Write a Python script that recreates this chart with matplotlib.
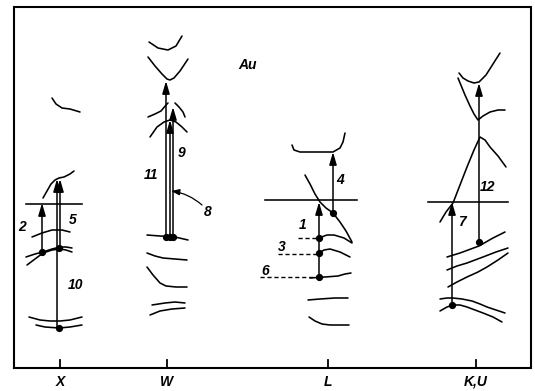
import matplotlib
matplotlib.use("Agg")
import matplotlib.pyplot as plt

# ---- data (drawing units = reference pixels, y grows downward) ----
kpoint_labels = ["X", "W", "L", "K,U"]
kpoint_x = [60, 167, 328, 476]
frame = (14, 7, 531, 368)  # left, top, right, bottom

# Fermi level segments (x0, x1, y)
fermi_segments = [(26, 82, 204), (265, 357, 200), (428, 508, 202)]

# band curves near each point
bands_X = [
    [(52, 98), (56, 104), (62, 108), (70, 109), (80, 112)],
    [(43, 198), (47, 191), (51, 184), (55, 180), (59, 178), (64, 177), (70, 174), (74, 171)],
    [(32, 237), (42, 233), (52, 230), (62, 230), (70, 232)],
    [(26, 257), (35, 254), (43, 252), (52, 249), (60, 247), (66, 247), (72, 248)],
    [(27, 265), (35, 259), (43, 253), (52, 250), (60, 249), (66, 250), (72, 252)],
    [(29, 317), (40, 320), (50, 321), (60, 321), (70, 320), (82, 317)],
    [(36, 325), (45, 327), (59, 328), (70, 327), (82, 325)],
]
bands_W = [
    [(149, 42), (158, 48), (168, 50), (176, 46), (182, 36)],
    [(148, 57), (155, 66), (162, 74), (167, 79), (170, 80), (174, 78), (180, 71), (188, 59)],
    [(148, 117), (155, 114), (161, 111), (166, 105), (168, 103)],
    [(175, 103), (179, 107), (183, 112), (185, 117)],
    [(150, 137), (157, 127), (164, 122), (170, 120), (176, 122), (182, 127), (187, 132)],
    [(147, 235), (160, 236), (175, 237), (188, 240)],
    [(147, 253), (155, 256), (163, 258), (175, 259), (187, 260)],
    [(147, 267), (153, 275), (160, 283), (166, 286), (176, 287), (187, 287)],
    [(152, 305), (165, 303), (175, 302), (185, 303)],
    [(150, 315), (160, 311), (172, 309), (185, 308)],
]
bands_L = [
    [(292, 145), (294, 150), (300, 152), (315, 152), (333, 152), (340, 148), (343, 142), (345, 133)],
    [(305, 175), (310, 184), (315, 194), (320, 202), (326, 208), (333, 213), (340, 222), (346, 231), (352, 242)],
    [(319, 238), (327, 235), (334, 235), (344, 238), (352, 243)],
    [(319, 253), (324, 250), (330, 249), (340, 252), (350, 257)],
    [(310, 278), (325, 277), (338, 276), (345, 274), (351, 273)],
    [(308, 300), (320, 299), (335, 298), (348, 298)],
    [(309, 317), (315, 321), (322, 324), (330, 325), (349, 325)],
]
bands_K = [
    [(459, 73), (463, 78), (468, 81), (474, 83), (479, 82), (486, 75), (493, 64), (500, 53)],
    [(458, 78), (465, 95), (470, 106), (474, 114), (478, 120), (483, 116), (490, 112), (498, 110), (505, 110)],
    [(440, 222), (446, 212), (453, 203), (460, 185), (467, 167), (474, 150), (480, 137), (485, 140), (490, 147), (498, 156), (506, 167)],
    [(447, 257), (460, 253), (479, 246), (493, 238), (505, 232)],
    [(447, 270), (457, 266), (467, 263), (483, 257), (496, 252), (508, 248)],
    [(448, 287), (457, 282), (467, 277), (478, 272), (487, 267), (498, 260), (508, 253)],
    [(440, 299), (447, 298), (453, 298), (462, 299), (472, 301), (480, 304), (487, 307), (496, 310), (505, 313)],
    [(440, 311), (447, 307), (453, 305), (460, 305), (467, 307), (475, 310), (483, 313), (493, 317), (502, 322)],
]

# transitions: x, y_start (initial state), y_end (arrow tip)
transitions_x = [42, 57, 60, 166, 170, 173, 319, 333, 452, 479]
transitions_y0 = [252, 328, 248, 237, 237, 237, 277, 213, 305, 242]
transitions_y1 = [203, 179, 179, 81, 120, 107, 202, 152, 202, 83]

# initial-state dots
dots_x = [42, 59, 59, 166, 170, 173, 319, 319, 319, 333, 452, 479]
dots_y = [252, 248, 328, 237, 237, 237, 238, 253, 277, 213, 305, 242]

# transition numbers
label_text = ["2", "5", "10", "11", "9", "8", "4", "1", "3", "6", "7", "12"]
label_x = [22, 73, 76, 151, 182, 208, 340, 303, 282, 265, 462, 488]
label_y = [227, 220, 285, 175, 153, 212, 180, 225, 247, 271, 222, 187]

# dashed leaders at L (x0, x1, y)
dashed_leaders = [(298, 319, 238), (278, 319, 254), (260, 319, 277)]

# ---- drawing ----
fig = plt.figure(figsize=(5.35, 3.91), dpi=100)
ax = fig.add_axes([0, 0, 1, 1])
ax.set_xlim(0, 535)
ax.set_ylim(391, 0)
ax.axis("off")

lw = 1.15
fs = 10
l, t, r, b = frame
ax.plot([l, l, r, r, l], [b, t, t, b, b], color="k", lw=1.5, solid_joinstyle="miter")

for kx, kl in zip(kpoint_x, kpoint_labels):
    ax.plot([kx, kx], [b, b - 8], color="k", lw=1.3)
    ax.text(kx, b + 7, kl, ha="center", va="top", fontsize=fs, style="italic",
            weight="bold", family="Liberation Sans")

for x0, x1, y in fermi_segments:
    ax.plot([x0, x1], [y, y], color="k", lw=lw)

for group in (bands_X, bands_W, bands_L, bands_K):
    for pts in group:
        xs = [p[0] for p in pts]
        ys = [p[1] for p in pts]
        ax.plot(xs, ys, color="k", lw=lw, solid_capstyle="round", solid_joinstyle="round")

for x, y0, y1 in zip(transitions_x, transitions_y0, transitions_y1):
    ax.annotate("", xy=(x, y1), xytext=(x, y0),
                arrowprops=dict(arrowstyle="-|>,head_length=0.75,head_width=0.22",
                                color="k", lw=1.1, shrinkA=0, shrinkB=0,
                                mutation_scale=10))

ax.plot(dots_x, dots_y, "o", color="k", ms=4.2)

for x0, x1, y in dashed_leaders:
    ax.plot([x0, x1], [y, y], color="k", lw=1.0, dashes=(3, 2))

for s, x, y in zip(label_text, label_x, label_y):
    ax.text(x, y, s, ha="center", va="center", fontsize=fs, style="italic",
            weight="bold", family="Liberation Sans")

# pointer for label 8
ax.annotate("", xy=(171, 191), xytext=(202, 205),
            arrowprops=dict(arrowstyle="-|>,head_length=0.5,head_width=0.18",
                            color="k", lw=0.9, shrinkA=0, shrinkB=0,
                            mutation_scale=10, connectionstyle="arc3,rad=0.15"))

ax.text(248, 65, "Au", ha="center", va="center", fontsize=fs, style="italic",
        weight="bold", family="Liberation Sans")

fig.savefig("out.png", dpi=100)
